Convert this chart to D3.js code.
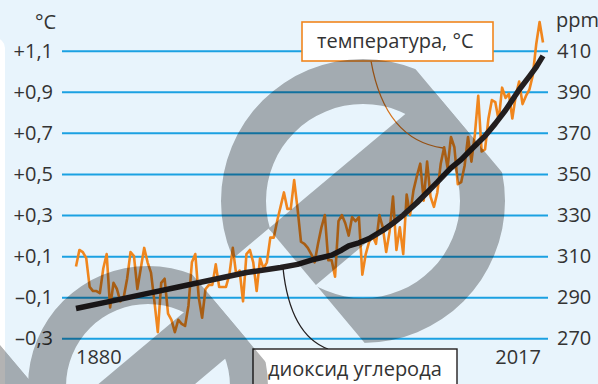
<!DOCTYPE html>
<html>
<head>
<meta charset="utf-8">
<script src="https://cdn.jsdelivr.net/npm/d3@7"></script>
<style>
  html, body { margin: 0; padding: 0; background: #e8f4fc; }
  svg { display: block; font-family: "Open Sans", "Noto Sans", sans-serif; }
</style>
</head>
<body>
<svg id="chart" width="598" height="384"></svg>
<script>
// Global temperature anomaly, °C, one value per year from 1880 to 2017
const tempFirstYear = 1880;
const tempValues = [
  0.05, 0.13, 0.12, 0.09, -0.05, -0.07, -0.07, -0.08, 0.04, 0.11,
  -0.15, -0.03, -0.06, -0.12, -0.10, -0.01, 0.12, 0.10, -0.06, 0.04,
  0.14, 0.07, 0.02, -0.12, -0.27, -0.03, -0.01, -0.18, -0.21, -0.27,
  -0.21, -0.23, -0.24, -0.14, 0.07, 0.11, -0.10, -0.20, -0.06, -0.04,
  -0.04, 0.06, -0.05, -0.05, -0.05, 0.01, 0.14, 0.01, 0.03, -0.12,
  0.11, 0.13, 0.07, -0.07, 0.09, 0.04, 0.07, 0.19, 0.19, 0.27,
  0.34, 0.41, 0.33, 0.33, 0.47, 0.33, 0.17, 0.16, 0.14, 0.11,
  0.07, 0.16, 0.24, 0.30, 0.08, 0.08, 0.00, 0.27, 0.30, 0.26,
  0.20, 0.29, 0.27, 0.29, 0.01, 0.11, 0.17, 0.20, 0.16, 0.30,
  0.24, 0.12, 0.22, 0.39, 0.13, 0.24, 0.11, 0.40, 0.30, 0.42,
  0.49, 0.55, 0.37, 0.56, 0.39, 0.34, 0.41, 0.55, 0.63, 0.53,
  0.68, 0.63, 0.45, 0.46, 0.54, 0.68, 0.56, 0.69, 0.88, 0.61,
  0.62, 0.77, 0.86, 0.85, 0.76, 0.92, 0.87, 0.89, 0.77, 0.88,
  0.95, 0.84, 0.88, 0.91, 0.98, 1.13, 1.24, 1.14
];

// Atmospheric CO2, ppm
const co2Years  = [1880, 1890, 1900, 1910, 1920, 1930, 1940, 1945, 1950, 1955,
                   1958, 1960, 1963, 1966, 1970, 1973, 1976, 1980, 1983, 1986,
                   1990, 1993, 1996, 2000, 2003, 2006, 2010, 2013, 2015, 2017];
const co2Values = [284.5, 288, 291.5, 295, 298.5, 302, 304.5, 306, 308.5, 310.5,
                   313, 315, 316.5, 318.5, 322.5, 326, 330, 336, 341, 346,
                   353, 357, 362, 368.5, 374.5, 381, 391, 397.5, 402, 407.5];

// Axis ticks and labels
const tempTicks = [1.1, 0.9, 0.7, 0.5, 0.3, 0.1, -0.1, -0.3];
const tempTickLabels = ["+1,1", "+0,9", "+0,7", "+0,5", "+0,3", "+0,1", "\u20130,1", "\u20130,3"];
const co2Ticks = [410, 390, 370, 350, 330, 310, 290, 270];
const yearLabels = [1880, 2017];
const tempLabel = "температура, °C";
const co2Label = "диоксид углерода";

const W = 598, H = 384;
const svg = d3.select("#chart");

const x  = d3.scaleLinear().domain([1880, 2017]).range([76, 543]);
const yT = d3.scaleLinear().domain([-0.3, 1.1]).range([338.3, 50.7]);
const yC = d3.scaleLinear().domain([270, 410]).range([338.3, 50.7]);

const textColor = "#333333";
const gridColor = "#1ba1e2";
const tempColor = "#f0861d";
const co2Color  = "#231f20";

// background panel and the edge of the neighbouring white card
svg.append("rect").attr("width", W).attr("height", H).attr("fill", "#e8f4fc");
svg.append("rect").attr("x", -20).attr("y", 38).attr("width", 25).attr("height", 400)
  .attr("rx", 10).attr("fill", "#ffffff");

// right axis: ppm labels, its ticks stretched across the plot as gridlines
const gRight = svg.append("g")
  .attr("transform", "translate(548,0)")
  .call(d3.axisRight(yC).tickValues(co2Ticks).tickSize(-486).tickPadding(9).tickFormat(d3.format("d")))
  .attr("font-size", 20).attr("font-family", null);
gRight.select(".domain").remove();
gRight.selectAll(".tick line").attr("stroke", gridColor).attr("stroke-width", 2);
gRight.selectAll(".tick text").attr("fill", textColor);

// left axis: temperature labels
const gLeft = svg.append("g")
  .attr("transform", "translate(62,0)")
  .call(d3.axisLeft(yT).tickValues(tempTicks).tickSize(0).tickPadding(9)
    .tickFormat((d, i) => tempTickLabels[i]))
  .attr("font-size", 20).attr("font-family", null);
gLeft.select(".domain").remove();
gLeft.selectAll(".tick text").attr("fill", textColor);

// units
svg.append("text").attr("x", 35).attr("y", 29).attr("font-size", 20).attr("fill", textColor).text("°C");
svg.append("text").attr("x", 556).attr("y", 27).attr("font-size", 20).attr("fill", textColor).text("ppm");

// first and last years
svg.selectAll("text.year").data(yearLabels).enter().append("text")
  .attr("class", "year")
  .attr("x", d => x(d) + (d === 1880 ? 0 : -2))
  .attr("y", 364)
  .attr("text-anchor", (d, i) => i === 0 ? "start" : "end")
  .attr("font-size", 20).attr("fill", textColor)
  .text(d => d);

// temperature series
const tempLine = d3.line()
  .x((d, i) => x(tempFirstYear + i))
  .y(d => yT(d));
svg.append("path").datum(tempValues)
  .attr("d", tempLine)
  .attr("fill", "none").attr("stroke", tempColor)
  .attr("stroke-width", 2.6).attr("stroke-linejoin", "round");

// CO2 series
const co2Line = d3.line()
  .x((d, i) => x(co2Years[i]))
  .y(d => yC(d));
svg.append("path").datum(co2Values)
  .attr("d", co2Line)
  .attr("fill", "none").attr("stroke", co2Color)
  .attr("stroke-width", 5.5).attr("stroke-linejoin", "round");

// callout: temperature
svg.append("path")
  .attr("d", "M371,61 Q385,140 443,148")
  .attr("fill", "none").attr("stroke", "#d4721c").attr("stroke-width", 1.3);
svg.append("rect").attr("x", 302).attr("y", 22).attr("width", 191).attr("height", 39)
  .attr("fill", "#ffffff").attr("stroke", tempColor).attr("stroke-width", 1.6);
svg.append("text").attr("x", 317).attr("y", 48).attr("font-size", 20).attr("fill", textColor).text(tempLabel);

// callout: CO2
svg.append("path")
  .attr("d", "M283,268 Q290,335 328,349")
  .attr("fill", "none").attr("stroke", co2Color).attr("stroke-width", 1.3);
svg.append("rect").attr("x", 253).attr("y", 349).attr("width", 204).attr("height", 45)
  .attr("fill", "#ffffff").attr("stroke", co2Color).attr("stroke-width", 1.4);
svg.append("text").attr("x", 268).attr("y", 376).attr("font-size", 20).attr("fill", textColor).text(co2Label);

// translucent "prohibited" marks laid over the whole figure:
// a ring broken open at two ends, with a diagonal bar across it
const signs = [
  { cx: 363, cy: 201, k: 1 },
  { cx: 148, cy: 386, k: 0.845 },
  { cx: -65, cy: 432, k: 0.845 }
];
const rIn = 97, rOut = 142, tilt = 40 * Math.PI / 180;
const barTop = 39.5, barBottom = -34, barStart = -90, barEnd = 125;
const cosT = Math.cos(tilt), sinT = Math.sin(tilt);
// (u along the bar towards upper right, v across it towards upper left) -> screen
const toScreen = (s, u, v) => [s.cx + s.k * (cosT * u - sinT * v), s.cy + s.k * (-sinT * u - cosT * v)];
const poly = (s, pts) => "M" + pts.map(p => toScreen(s, p[0], p[1]).join(",")).join("L") + "Z";

const defs = svg.append("defs");
const overlay = svg.append("g").attr("opacity", 0.3);
signs.forEach((s, i) => {
  defs.append("clipPath").attr("id", "ringcut" + i)
    .append("path")
    .attr("d", poly(s, [[-400, 400], [barEnd, 400], [barEnd, -400], [barStart, -400],
                        [barStart, barTop], [-400, barTop]]));
  const ring = d3.path();
  ring.moveTo(s.cx + s.k * rOut, s.cy); ring.arc(s.cx, s.cy, s.k * rOut, 0, 2 * Math.PI);
  ring.moveTo(s.cx + s.k * rIn, s.cy);  ring.arc(s.cx, s.cy, s.k * rIn, 0, 2 * Math.PI);
  overlay.append("path")
    .attr("d", ring.toString())
    .attr("fill", "#000").attr("fill-rule", "evenodd")
    .attr("clip-path", "url(#ringcut" + i + ")");
  overlay.append("path")
    .attr("d", poly(s, [[barStart, barTop], [barEnd, barTop], [barEnd, barBottom], [barStart, barBottom]]))
    .attr("fill", "#000");
});
</script>
</body>
</html>
